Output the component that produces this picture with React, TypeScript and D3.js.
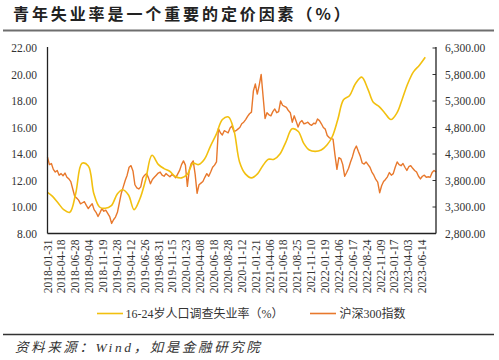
import React from "react";
import * as d3 from "d3";

const W = 499;
const H = 360;

// x-axis category labels (every 50 trading days)
const xLabels = [
  "2018-01-31", "2018-04-18", "2018-06-28", "2018-09-04", "2018-11-19",
  "2019-01-28", "2019-04-12", "2019-06-26", "2019-08-31", "2019-11-15",
  "2020-01-23", "2020-04-08", "2020-06-18", "2020-08-28", "2020-11-12",
  "2021-01-21", "2021-04-06", "2021-06-18", "2021-08-25", "2021-11-10",
  "2022-01-19", "2022-04-06", "2022-06-17", "2022-08-24", "2022-11-09",
  "2023-01-17", "2023-04-03", "2023-06-14",
];
const LABEL_STEP = 50; // trading days between labels
const END_DAY = 1400; // last trading-day index on the axis
const END_DATE = "2023-08-24";

const leftTicks = [8, 10, 12, 14, 16, 18, 20, 22];
const rightTicks = [2800, 3300, 3800, 4300, 4800, 5300, 5800, 6300];

// 16-24 youth unemployment rate (%), monthly from 2018-01 to 2023-06
const unempStart = "2018-01";
const unemployment = [
  11.1, 10.8, 10.3, 9.8, 9.6, 11.0, 13.3, 13.1, 11.0, 10.0, 9.9, 10.1,
  11.0, 11.3, 10.9, 9.8, 10.6, 12.0, 13.9, 13.2, 12.9, 12.7, 12.3, 12.2,
  12.5, 13.3, 13.2, 13.6, 14.6, 15.5, 16.6, 16.8, 15.8, 13.4, 12.5, 12.2,
  12.5, 13.1, 13.6, 13.6, 14.0, 14.9, 15.9, 15.7, 14.8, 14.3, 14.2, 14.3,
  14.7, 15.3, 16.6, 18.1, 18.4, 19.3, 19.8, 18.9, 17.9, 17.6, 17.1, 16.6,
  17.1, 18.1, 19.3, 20.2, 20.7, 21.3,
];

// CSI 300 index, sampled every 7 trading days from 2018-01-31
const CSI_STEP = 7;
const csi300 = [
  4240, 4100, 4120, 4010, 3960, 3990, 3900, 3930, 3890, 3940,
  3860, 3830, 3780, 3640, 3500, 3470, 3430, 3360, 3380, 3400,
  3330, 3270, 3320, 3360, 3250, 3200, 3120, 3190, 3270, 3220,
  3240, 3180, 3120, 2990, 3060, 3110, 3200, 3380, 3560, 3680,
  3800, 3900, 4050, 4080, 3980, 3720, 3660, 3640, 3680, 3850,
  3900, 3930, 3850, 3740, 3820, 3860, 3900, 3940, 3960, 3900,
  3880, 3930, 3900, 3870, 3910, 3890, 3850, 3920, 3990, 4100,
  4170, 4090, 3690, 4000, 4120, 4170, 3920, 3560, 3720, 3750,
  3780, 3860, 3930, 3880, 3960, 4050, 4090, 4150, 4780, 4700,
  4660, 4740, 4720, 4700, 4790, 4830, 4720, 4740, 4770, 4800,
  4870, 4900, 4950, 5010, 5060, 5090, 5490, 5620, 5430, 5600,
  5800, 5380, 4970, 5080, 5040, 5020, 5100, 5150, 5080, 5100,
  5300, 5220, 5200, 5180, 5120, 5080, 4900, 5020, 4920, 4810,
  4900, 4930, 4870, 4880, 4900, 4860, 4840, 4880, 4870, 4960,
  4930, 4870, 4800, 4770, 4650, 4610, 4590, 4580, 4280, 4010,
  4230, 4210, 4100, 3880, 3950, 4030, 4150, 4250, 4380, 4450,
  4350, 4260, 4130, 4110, 4150, 4100, 4050, 3960, 3900, 3820,
  3770, 3570, 3700, 3780, 3820, 3870, 3950, 3900, 3930, 4050,
  4150, 4100, 4080, 4120, 4050, 3990, 4060, 4080, 4030, 3990,
  3960, 3880, 3830, 3880, 3900, 3860, 3870, 3860, 3950, 3990,
  3960,
];

const title = "青年失业率是一个重要的定价因素（%）";
const legendNames = ["16-24岁人口调查失业率（%）", "沪深300指数"];
const source = "资料来源：Wind，如是金融研究院";

const YELLOW = "#F2C00F";
const ORANGE = "#E8782C";
const SERIF = "'Liberation Serif', 'Times New Roman', 'Noto Sans CJK SC', serif";

export default function App() {
  const left = 47.5;
  const right = 436;
  const top = 48;
  const bottom = 233.5;

  const xIdx = d3.scaleLinear().domain([0, END_DAY]).range([left, right]);
  const parse = d3.utcParse("%Y-%m-%d");
  const labelDates = xLabels.map((s) => parse(s) as Date);
  const xDate = d3
    .scaleUtc()
    .domain([...labelDates, parse(END_DATE) as Date])
    .range([...xLabels.map((_, k) => xIdx(k * LABEL_STEP)), xIdx(END_DAY)]);

  const yL = d3.scaleLinear().domain([8, 22]).range([bottom, top]);
  const yR = d3.scaleLinear().domain([2800, 6300]).range([bottom, top]);

  const start = d3.utcParse("%Y-%m")(unempStart) as Date;
  const unempPts: [number, number][] = unemployment.map((v, m) => {
    const monthEnd = d3.utcDay.offset(d3.utcMonth.offset(start, m + 1), -1);
    return [xDate(monthEnd), yL(v)];
  });
  const csiPts: [number, number][] = csi300.map((v, i) => [xIdx(i * CSI_STEP), yR(v)]);

  const smooth = d3.line().curve(d3.curveCatmullRom.alpha(0.5));
  const straight = d3.line();

  return (
    <div style={{ position: "absolute", left: 0, top: 0 }}>
      <svg width={W} height={H} style={{ display: "block", background: "#fff" }}>
        <text
          x={13}
          y={19.5}
          fontFamily="'Noto Sans CJK SC', sans-serif"
          fontWeight={700}
          fontSize={16}
          letterSpacing={2.9}
          fill="#222"
        >
          {title}
        </text>
        <line x1={3} x2={494} y1={30.5} y2={30.5} stroke="#6e6e6e" strokeWidth={2} />

        {/* left axis labels */}
        {leftTicks.map((t) => (
          <text
            key={"l" + t}
            x={37}
            y={yL(t)}
            dy="0.35em"
            textAnchor="end"
            fontFamily={SERIF}
            fontSize={11.5}
            fill="#333"
          >
            {d3.format(".2f")(t)}
          </text>
        ))}
        {/* right axis labels and ticks */}
        {rightTicks.map((t) => (
          <g key={"r" + t}>
            <line x1={right - 3.5} x2={right} y1={yR(t)} y2={yR(t)} stroke="#333" strokeWidth={1} />
            <text
              x={445}
              y={yR(t)}
              dy="0.35em"
              textAnchor="start"
              fontFamily={SERIF}
              fontSize={11.5}
              fill="#333"
            >
              {d3.format(",.2f")(t)}
            </text>
          </g>
        ))}

        {/* x labels */}
        {xLabels.map((s, k) => {
          const x = xDate(labelDates[k]);
          return (
            <text
              key={s}
              transform={`translate(${x},${bottom + 6}) rotate(-90)`}
              dy="0.35em"
              textAnchor="end"
              fontFamily={SERIF}
              fontSize={11.5}
              fill="#333"
            >
              {s}
            </text>
          );
        })}

        {/* series */}
        <path d={straight(csiPts) || ""} fill="none" stroke={ORANGE} strokeWidth={1.4} strokeLinejoin="round" />
        <path d={smooth(unempPts) || ""} fill="none" stroke={YELLOW} strokeWidth={1.6} />

        {/* axes */}
        <line x1={left} x2={left} y1={top - 1} y2={bottom} stroke="#222" strokeWidth={1.3} />
        <line x1={right} x2={right} y1={top - 1} y2={bottom} stroke="#222" strokeWidth={1.3} />
        <line x1={left} x2={right} y1={bottom} y2={bottom} stroke="#222" strokeWidth={1.3} />

        {/* legend */}
        <line x1={97} x2={123} y1={313.5} y2={313.5} stroke={YELLOW} strokeWidth={1.6} />
        <text x={125.5} y={313.5} dy="0.35em" fontFamily={SERIF} fontSize={12} fill="#333">
          {legendNames[0]}
        </text>
        <line x1={310} x2={336} y1={313.5} y2={313.5} stroke={ORANGE} strokeWidth={1.6} />
        <text x={339.5} y={313.5} dy="0.35em" fontFamily={SERIF} fontSize={12} fill="#333">
          {legendNames[1]}
        </text>

        <line x1={3} x2={494} y1={334.5} y2={334.5} stroke="#333" strokeWidth={1.3} />
        <text
          x={15}
          y={352}
          fontFamily={SERIF}
          fontStyle="italic"
          fontSize={13.5}
          letterSpacing={2.6}
          fill="#333"
        >
          {source}
        </text>
      </svg>
    </div>
  );
}
